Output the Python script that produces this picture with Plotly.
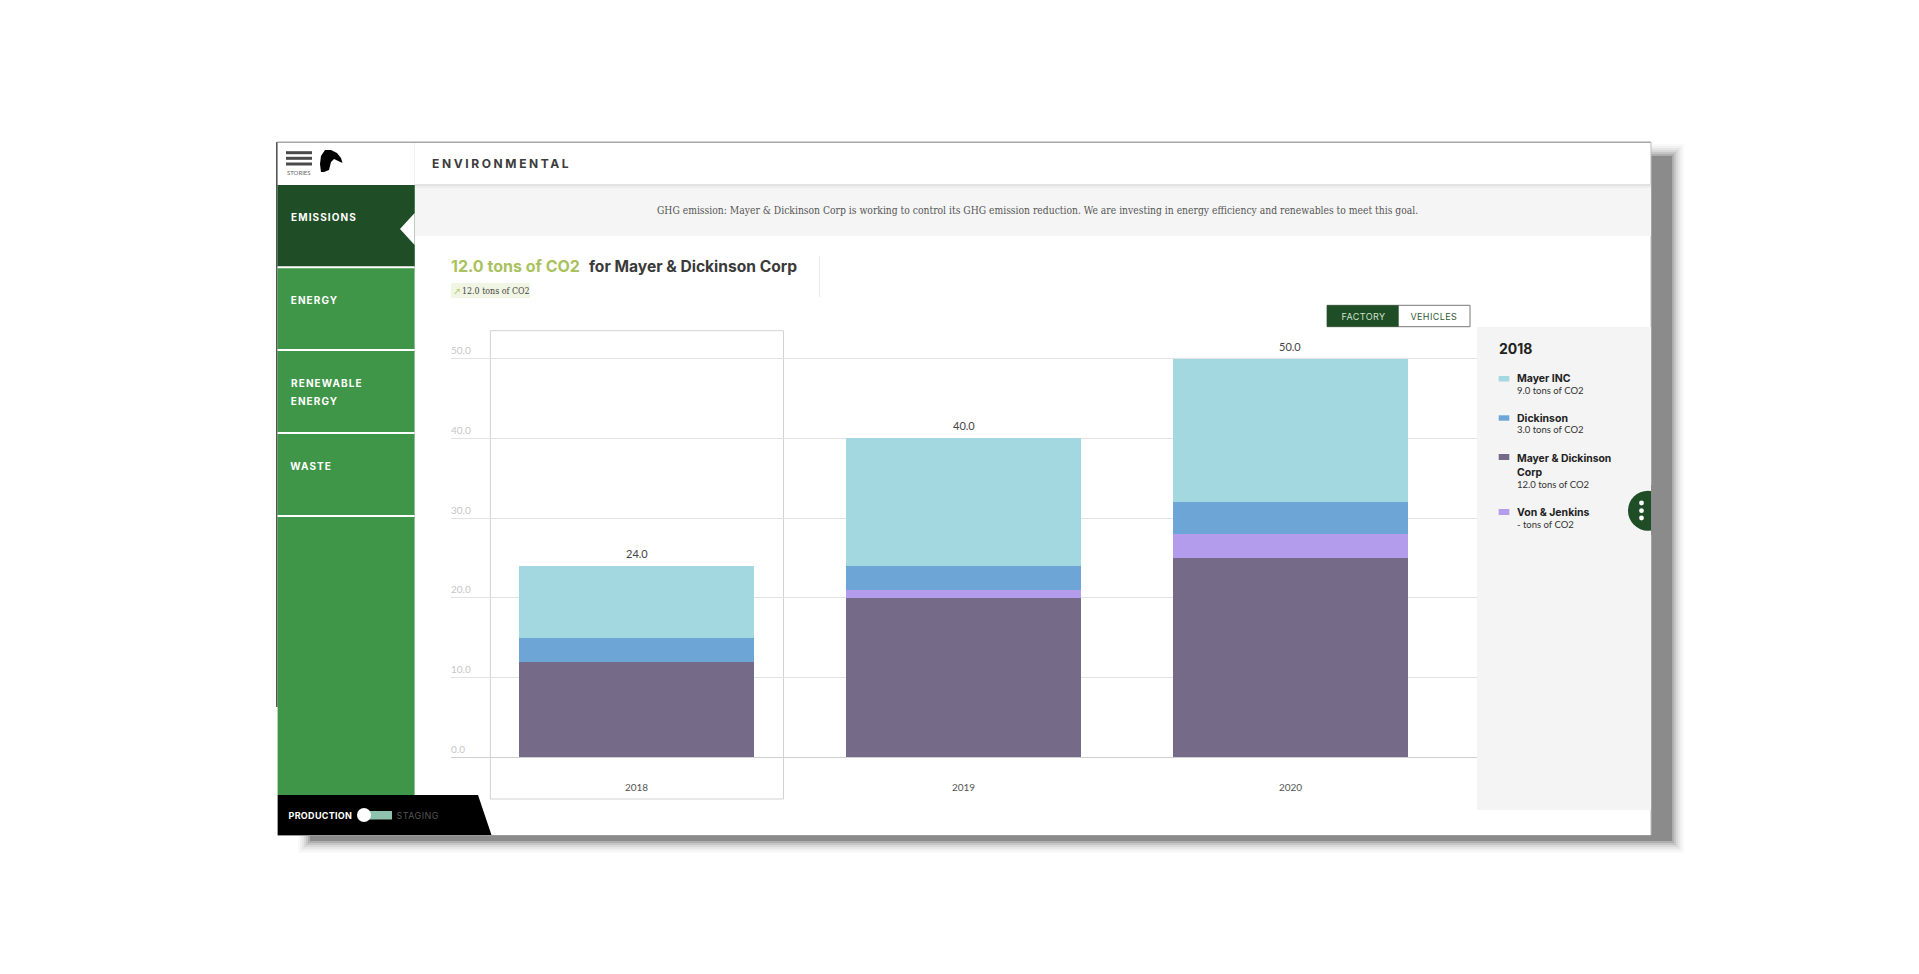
import plotly.graph_objects as go

# ---------- data ----------
years = ["2018", "2019", "2020"]
corp = [12, 20, 25]
von = [0, 1, 3]
dickinson = [3, 3, 4]
mayer = [9, 16, 18]
totals = [24.0, 40.0, 50.0]
y_ticks = [0, 10, 20, 30, 40, 50]
y_tick_labels = ["0.0", "10.0", "20.0", "30.0", "40.0", "50.0"]
series_names = ["Mayer INC", "Dickinson", "Mayer & Dickinson Corp", "Von & Jenkins"]
nav_items = ["EMISSIONS", "ENERGY", "RENEWABLE", "ENERGY", "WASTE"]

C_CORP, C_VON, C_DICK, C_MAYER = "#756b89", "#b39cec", "#6ca5d6", "#a3d8e0"
DARK, GREEN = "#1f4d25", "#3f9548"
W, H = 1919, 974
SERIF = "DejaVu Serif Condensed, DejaVu Serif, serif"
SANS = "Lato, Open Sans, sans-serif"
HEAD = "Inter, Open Sans, sans-serif"

def px(x): return x / W
def py(y): return 1 - y / H

shapes = []
def rect(x0, y0, x1, y1, fill, line=None, lw=1, opacity=1, layer="below"):
    shapes.append(dict(type="rect", xref="paper", yref="paper", x0=px(x0), x1=px(x1), y0=py(y0), y1=py(y1),
                       fillcolor=fill, opacity=opacity, layer=layer,
                       line=dict(color=line or "rgba(0,0,0,0)", width=lw if line else 0)))
def path(points, fill, layer="below"):
    d = "M " + " L ".join(f"{px(x):.5f},{py(y):.5f}" for x, y in points) + " Z"
    shapes.append(dict(type="path", xref="paper", yref="paper", path=d, fillcolor=fill, layer=layer,
                       line=dict(width=0)))
def circle(cx, cy, r, fill, layer="above"):
    shapes.append(dict(type="circle", xref="paper", yref="paper", x0=px(cx-r), x1=px(cx+r), y0=py(cy-r), y1=py(cy+r),
                       fillcolor=fill, layer=layer, line=dict(width=0)))

annotations = []
def label(x, y, text, size, color, font=SANS, anchor="center"):
    annotations.append(dict(xref="paper", yref="paper", x=px(x), y=py(y), text=text, showarrow=False,
                            xanchor=anchor, yanchor="middle", borderpad=0, borderwidth=0,
                            font=dict(size=size, color=color, family=font)))

# shadow (layered to imitate the blur)
for grow, op in [(12, .05), (10, .07), (8, .1), (6, .15), (4, .25), (2, .4), (0, 1)]:
    rect(310-grow, 156-grow, 1672+grow, 841+grow, "#8b8b8b", opacity=op)

# window
rect(277.6, 142, 1651, 835, "#ffffff")
rect(277.6, 141.5, 1651, 143, "#a8a8a8")
rect(276, 142, 277.6, 707, "#555555")
rect(1650.5, 142, 1651.5, 835, "#bbbbbb")
rect(277.6, 835, 1651, 836, "#9a9a9a")

# header + banner
rect(414.6, 185, 1651, 236, "#f5f5f5")
rect(414.6, 184, 1651, 186, "#e2e2e2")
rect(414.6, 186, 1651, 188, "#eeeeee")
rect(414, 143, 415, 185, "#f0f0f0")
label(502, 164, "<b>ENVIRONMENTAL</b>", 12, "#3c3c3c", HEAD)
label(1037, 210, "GHG emission: Mayer &amp; Dickinson Corp is working to control its GHG emission reduction. "
      "We are investing in energy efficiency and renewables to meet this goal.", 10.25, "#555555", SERIF)

# menu + logo
for yy in (152.7, 158.3, 164):
    rect(286, yy-1.5, 312, yy+1.5, "#4a4a4a")
label(299, 173, "STORIES", 6, "#666666", SANS)
path([(325, 150), (331, 150), (337, 153), (341, 158), (342.5, 163), (334, 159), (331, 162), (329, 170),
      (324, 172), (321, 172), (320, 164), (321, 156)], "#000000")

# sidebar
rect(277.6, 185, 414.6, 795, GREEN)
rect(277.6, 185, 414.6, 267, DARK)
for yy in (267.3, 350, 433, 516):
    rect(277.6, yy-1, 414.6, yy+1, "#ffffff")
path([(414.6, 213), (400, 229), (414.6, 245)], "#ffffff")
nav_pos = [(324, 217), (315, 300), (327, 382.7), (315, 400.7), (311, 465.7)]
for name, (nx, ny) in zip(nav_items, nav_pos):
    label(nx, ny, f"<b>{name}</b>", 10, "#ffffff", HEAD)

# production footer
path([(277.6, 795), (478, 795), (491.5, 835), (277.6, 835)], "#000000")
label(320.5, 815, "<b>PRODUCTION</b>", 9, "#ffffff", HEAD)
rect(368, 811, 392, 819.5, "#8fc1af")
circle(364, 815, 7, "#ffffff", layer="below")
label(418, 815, "STAGING", 9, "#555555", HEAD)

# headline
label(451, 266, f"<b>{corp[0]:.1f} tons of CO2</b>", 16, "#a9c25d", HEAD, "left")
label(589, 266, "<b>for Mayer &amp; Dickinson Corp</b>", 15.6, "#3a3a3a", HEAD, "left")
rect(819.2, 256, 820, 297, "#e4e4e4")
rect(451, 283, 530, 298, "#f1f5e3")
label(456.5, 290.7, "↗", 8, "#a9c25d", SANS)
label(496, 290.7, f"{corp[0]:.1f} tons of CO2", 8.8, "#444444", SERIF)

# buttons
rect(1327, 305.3, 1470, 326.7, "#ffffff", line="#777777", lw=1)
rect(1327, 305.3, 1398.7, 326.7, DARK)
label(1363, 316, "FACTORY", 9, "#cfe3d0", HEAD)
label(1433.5, 316, "VEHICLES", 9, "#2f5a37", HEAD)

# selected-year box
rect(490.4, 330.7, 783.5, 799, "rgba(0,0,0,0)", line="#d2d2d2", lw=1)

# side panel
rect(1477, 327, 1651, 810, "#f4f4f4")
label(1499, 348, f"<b>{years[0]}</b>", 14, "#222222", HEAD, "left")
first = [mayer[0], dickinson[0], corp[0], von[0]]
swatches = [(376, 381.5, C_MAYER), (415.3, 420.7, C_DICK), (454, 460, C_CORP), (509, 515, C_VON)]
for y0, y1, col in swatches:
    rect(1498.7, y0, 1509.3, y1, col)
tx = 1516.7
def val(v): return f"{v:.1f} tons of CO2" if v else "- tons of CO2"
label(tx, 378.7, f"<b>{series_names[0]}</b>", 10.5, "#222222", HEAD, "left")
label(tx, 390.3, val(first[0]), 9.5, "#333333", SANS, "left")
label(tx, 418, f"<b>{series_names[1]}</b>", 10.5, "#222222", HEAD, "left")
label(tx, 429.7, val(first[1]), 9.5, "#333333", SANS, "left")
label(tx, 458, "<b>Mayer &amp; Dickinson</b>", 10.4, "#222222", HEAD, "left")
label(tx, 473, "<b>Corp</b>", 10.5, "#222222", HEAD, "left")
label(tx, 484.7, val(first[2]), 9.5, "#333333", SANS, "left")
label(tx, 512.3, f"<b>{series_names[3]}</b>", 10.5, "#222222", HEAD, "left")
label(tx, 524, val(first[3]), 9.5, "#333333", SANS, "left")

# floating dots button (half clipped by the window edge)
circle(1648, 510.7, 20, DARK)
rect(1651, 485, 1672, 535, "#8b8b8b", layer="above")
for yy in (503, 510.7, 518):
    circle(1641.5, yy, 2.4, "#ffffff")

# ---------- chart ----------
PLOT_TOP, ZERO_Y, UNIT = 330.0, 757.3, (757.3 - 358.7) / 50
fig = go.Figure()
for vals, col, name in [(corp, C_CORP, series_names[2]), (von, C_VON, series_names[3]),
                        (dickinson, C_DICK, series_names[1]), (mayer, C_MAYER, series_names[0])]:
    fig.add_bar(x=years, y=vals, name=name, marker=dict(color=col, line=dict(width=0)), hoverinfo="y+name")
for i, t in enumerate(totals):  # category axes take the serial index here
    annotations.append(dict(xref="x", yref="y", x=i, y=t, text=f"{t:.1f}", showarrow=False, yanchor="middle",
                            yshift=12.5, font=dict(size=11, color="#444444", family=SANS)))

fig.update_layout(
    width=W, height=H, margin=dict(l=0, r=0, t=0, b=0), autosize=False,
    paper_bgcolor="#ffffff", plot_bgcolor="rgba(0,0,0,0)",
    barmode="stack", bargap=0.283, showlegend=False,
    shapes=shapes, annotations=annotations,
    xaxis=dict(domain=[px(451), px(1477)], type="category", range=[-0.5675, 2.5705], showgrid=False,
               showline=False, zeroline=False, ticks="", ticklabelstandoff=23,
               tickfont=dict(size=10, color="#555555", family=SANS)),
    yaxis=dict(domain=[py(ZERO_Y), py(PLOT_TOP)], range=[0, (ZERO_Y - PLOT_TOP) / UNIT], tickvals=y_ticks,
               ticktext=y_tick_labels, ticklabelposition="inside top", ticklabelstandoff=-3, ticklabelshift=-1,
               showgrid=True, gridcolor="#e2e2e2", gridwidth=1,
               zeroline=True, zerolinecolor="#cfcfcf", zerolinewidth=1, showline=False, ticks="",
               tickfont=dict(size=10, color="#c6c6c6", family=SANS)),
)

post = """
document.body.style.margin='0';document.body.style.overflow='hidden';
var sp={'ENVIRONMENTAL':'2.6px','EMISSIONS':'1.1px','ENERGY':'1.1px','RENEWABLE':'1.1px','WASTE':'1.1px','PRODUCTION':'0.3px','STAGING':'0.4px','FACTORY':'0.4px','VEHICLES':'0.4px'};
document.querySelectorAll('.annotation-text').forEach(function(t){var s=sp[t.textContent.trim()];if(s){t.style.letterSpacing=s;}});
"""
fig.write_html("out.html", post_script=post, config=dict(displayModeBar=False))
